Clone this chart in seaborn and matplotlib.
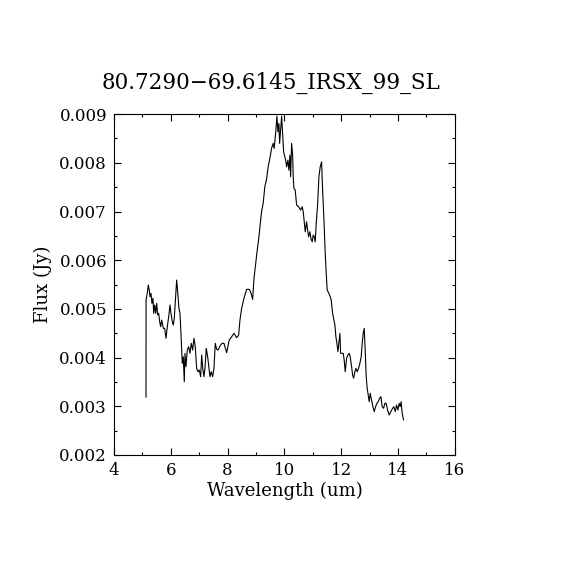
import seaborn as sns
import matplotlib.pyplot as plt
import pandas as pd
from matplotlib.ticker import MultipleLocator

# spectrum
wavelength = [
    5.126, 5.130, 5.172, 5.207, 5.242, 5.267, 5.302, 5.337, 5.372, 5.397,
    5.432, 5.467, 5.503, 5.538, 5.573, 5.608, 5.643, 5.679, 5.735, 5.784,
    5.830, 5.876, 5.925, 5.971, 6.006, 6.052, 6.087, 6.122, 6.171, 6.206,
    6.242, 6.287, 6.323, 6.368, 6.403, 6.439, 6.474, 6.498, 6.534, 6.579,
    6.629, 6.674, 6.720, 6.769, 6.815, 6.861, 6.910, 6.956, 7.002, 7.051,
    7.086, 7.132, 7.167, 7.202, 7.248, 7.297, 7.343, 7.378, 7.424, 7.473,
    7.519, 7.565, 7.614, 7.670, 7.730, 7.801, 7.871, 7.966, 8.057, 8.142,
    8.223, 8.318, 8.388, 8.434, 8.494, 8.575, 8.670, 8.761, 8.810, 8.881,
    8.930, 8.983, 9.029, 9.089, 9.145, 9.194, 9.251, 9.310, 9.370, 9.427,
    9.487, 9.547, 9.604, 9.639, 9.690, 9.736, 9.771, 9.806, 9.831, 9.877,
    9.902, 9.937, 9.972, 10.042, 10.077, 10.123, 10.158, 10.193, 10.218, 10.253,
    10.289, 10.310, 10.334, 10.380, 10.429, 10.500, 10.570, 10.626, 10.662, 10.697,
    10.732, 10.781, 10.816, 10.851, 10.897, 10.932, 10.978, 11.013, 11.049, 11.084,
    11.119, 11.168, 11.214, 11.260, 11.309, 11.330, 11.365, 11.401, 11.436, 11.471,
    11.506, 11.566, 11.612, 11.647, 11.696, 11.742, 11.777, 11.812, 11.848, 11.883,
    11.929, 11.953, 11.978, 12.024, 12.069, 12.104, 12.140, 12.189, 12.235, 12.280,
    12.315, 12.365, 12.400, 12.435, 12.481, 12.516, 12.562, 12.611, 12.657, 12.703,
    12.738, 12.773, 12.808, 12.843, 12.879, 12.914, 12.949, 12.984, 13.019, 13.069,
    13.115, 13.160, 13.209, 13.255, 13.301, 13.350, 13.396, 13.442, 13.491, 13.537,
    13.582, 13.631, 13.688, 13.748, 13.807, 13.853, 13.899, 13.948, 13.994, 14.040,
    14.075, 14.110, 14.145, 14.195,
]
flux = [
    0.003184, 0.005196, 0.005319, 0.005490, 0.005387, 0.005250, 0.005319, 0.005114, 0.005217, 0.004909,
    0.005079, 0.004909, 0.005114, 0.004874, 0.004909, 0.004736, 0.004634, 0.004771, 0.004601, 0.004601,
    0.004396, 0.004634, 0.004839, 0.005079, 0.004909, 0.004736, 0.004669, 0.004806, 0.005250, 0.005592,
    0.005352, 0.005011, 0.004909, 0.004361, 0.003882, 0.004018, 0.003505, 0.004088, 0.003813, 0.004155,
    0.004223, 0.004088, 0.004293, 0.004155, 0.004396, 0.004223, 0.003780, 0.003710, 0.003745, 0.003607,
    0.004053, 0.003745, 0.003607, 0.003780, 0.004190, 0.004018, 0.003780, 0.003607, 0.003710, 0.003607,
    0.003780, 0.004293, 0.004170, 0.004155, 0.004238, 0.004293, 0.004293, 0.004100, 0.004361, 0.004428,
    0.004498, 0.004408, 0.004463, 0.004771, 0.005011, 0.005217, 0.005402, 0.005402, 0.005352, 0.005196,
    0.005633, 0.005900, 0.006140, 0.006414, 0.006721, 0.006994, 0.007167, 0.007508, 0.007660, 0.007918,
    0.008091, 0.008296, 0.008399, 0.008296, 0.008604, 0.008959, 0.008637, 0.008809, 0.008399, 0.008774,
    0.008959, 0.008604, 0.008226, 0.008056, 0.007918, 0.008056, 0.007850, 0.008158, 0.007713, 0.008399,
    0.008158, 0.007713, 0.007475, 0.007440, 0.007132, 0.007097, 0.007029, 0.007097, 0.006994, 0.006789,
    0.006584, 0.006789, 0.006619, 0.006481, 0.006584, 0.006448, 0.006379, 0.006516, 0.006481, 0.006379,
    0.006756, 0.007132, 0.007713, 0.007918, 0.008021, 0.007645, 0.007167, 0.006687, 0.006140, 0.005730,
    0.005387, 0.005319, 0.005250, 0.005182, 0.004909, 0.004771, 0.004669, 0.004428, 0.004293, 0.004121,
    0.004361, 0.004498, 0.004088, 0.004088, 0.004088, 0.003950, 0.003710, 0.003985, 0.004053, 0.004088,
    0.004018, 0.003813, 0.003642, 0.003575, 0.003710, 0.003780, 0.003710, 0.003780, 0.003882, 0.004018,
    0.004293, 0.004498, 0.004601, 0.004155, 0.003607, 0.003369, 0.003232, 0.003094, 0.003267, 0.003129,
    0.002992, 0.002889, 0.002992, 0.003061, 0.003094, 0.003164, 0.003197, 0.002992, 0.002959, 0.003061,
    0.003061, 0.002924, 0.002821, 0.002889, 0.002959, 0.002992, 0.002889, 0.003026, 0.002924, 0.003061,
    0.002992, 0.003094, 0.002856, 0.002718,
]

title = "80.7290\u221269.6145_IRSX_99_SL"

sns.set_style("ticks")
plt.rcParams['font.family'] = ['DejaVu Serif']
plt.rcParams['text.color'] = 'black'
plt.rcParams['axes.labelcolor'] = 'black'
plt.rcParams['xtick.color'] = 'black'
plt.rcParams['ytick.color'] = 'black'

df = pd.DataFrame({'Wavelength': wavelength, 'Flux': flux})

fig = plt.figure(figsize=(5.7, 5.7), dpi=100)
ax = fig.add_axes([0.2, 0.2018, 0.598, 0.598])

sns.lineplot(data=df, x='Wavelength', y='Flux', color='black', linewidth=0.8,
             sort=False, estimator=None, ax=ax)

ax.set_xlim(4, 16)
ax.set_ylim(0.002, 0.009)
ax.xaxis.set_major_locator(MultipleLocator(2))
ax.xaxis.set_minor_locator(MultipleLocator(1))
ax.yaxis.set_major_locator(MultipleLocator(0.001))
ax.yaxis.set_minor_locator(MultipleLocator(0.0005))
ax.yaxis.set_major_formatter(plt.FuncFormatter(lambda v, p: f"{v:.3f}"))

ax.tick_params(which='both', direction='in', top=True, right=True,
               width=0.8, colors='black', labelsize=12)
ax.tick_params(which='major', length=5, pad=5)
ax.tick_params(which='minor', length=2.5)
for s in ax.spines.values():
    s.set_linewidth(0.8)
    s.set_color('black')

ax.set_xlabel('Wavelength (um)', fontsize=13, labelpad=2, color='black')
ax.set_ylabel('Flux (Jy)', fontsize=13, labelpad=5, color='black')
fig.text(0.476, 0.854, title, ha='center', va='center', fontsize=15.5,
         color='black')

fig.savefig('out.png', dpi=100, facecolor='white')
